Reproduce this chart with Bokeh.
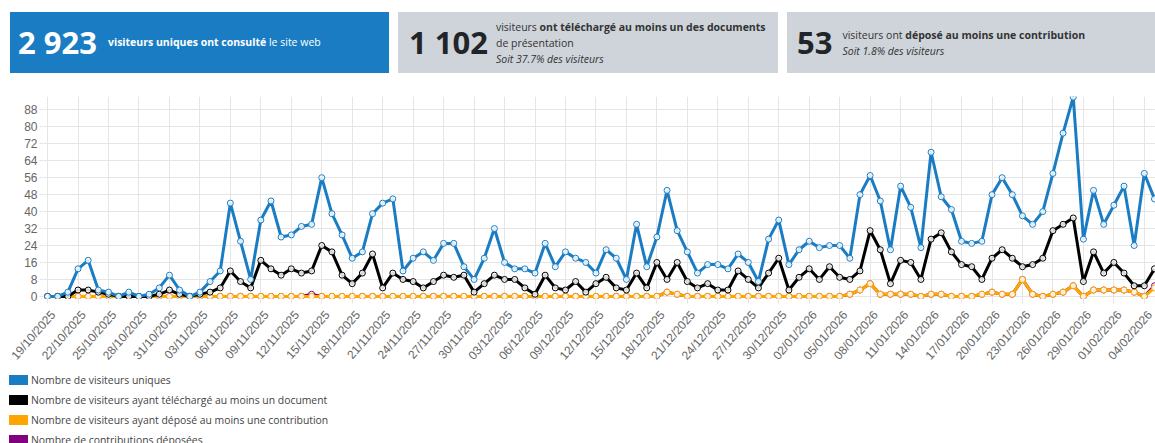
import pandas as pd
from bokeh.plotting import figure
from bokeh.models import Range1d, FixedTicker, Div, ColumnDataSource
from bokeh.layouts import column
from bokeh.embed import file_html
from bokeh.resources import INLINE

# ---------------- data ----------------
start_date = "2025-10-19"
n_days = 110

visiteurs_uniques = [
    0, 0, 2, 13, 17, 3, 2, 0, 2, 0,
    1, 4, 10, 3, 0, 2, 7, 12, 44, 26,
    8, 36, 45, 28, 29, 33, 34, 56, 39, 29,
    18, 21, 39, 44, 46, 12, 18, 21, 17, 25,
    25, 14, 8, 18, 32, 16, 13, 13, 11, 25,
    14, 21, 18, 16, 11, 22, 18, 8, 34, 14,
    28, 50, 31, 21, 11, 15, 15, 13, 20, 16,
    7, 27, 36, 15, 22, 26, 23, 24, 24, 18,
    48, 57, 45, 22, 52, 42, 23, 68, 47, 41,
    26, 25, 26, 48, 56, 48, 38, 34, 40, 58,
    77, 94, 27, 50, 34, 43, 52, 24, 58, 46,
]
visiteurs_telechargement = [
    0, 0, 0, 3, 3, 2, 1, 0, 0, 0,
    0, 1, 3, 1, 0, 1, 2, 4, 12, 7,
    4, 17, 13, 10, 13, 11, 12, 24, 21, 10,
    6, 11, 20, 4, 11, 8, 7, 4, 7, 10,
    9, 10, 2, 6, 10, 8, 8, 4, 1, 10,
    4, 3, 7, 2, 6, 9, 4, 3, 11, 4,
    16, 8, 16, 7, 4, 6, 3, 3, 12, 8,
    4, 11, 18, 3, 9, 13, 8, 14, 9, 8,
    12, 31, 22, 6, 17, 16, 8, 27, 30, 21,
    15, 14, 8, 18, 22, 18, 14, 15, 18, 31,
    34, 37, 7, 21, 11, 16, 11, 5, 5, 13,
]
visiteurs_contribution = [
    0, 0, 0, 0, 0, 0, 0, 0, 0, 0,
    0, 0, 0, 0, 0, 0, 0, 0, 0, 0,
    0, 0, 0, 0, 0, 0, 0, 0, 0, 0,
    0, 0, 0, 0, 0, 0, 0, 0, 0, 0,
    0, 0, 0, 0, 0, 0, 0, 0, 0, 0,
    0, 0, 0, 0, 0, 0, 0, 0, 0, 0,
    0, 2, 1, 0, 0, 0, 0, 0, 0, 0,
    0, 0, 0, 0, 0, 0, 0, 0, 0, 1,
    3, 6, 1, 1, 1, 1, 0, 1, 1, 0,
    0, 0, 1, 2, 1, 1, 8, 1, 0, 1,
    2, 5, 0, 3, 3, 3, 3, 2, 0, 4,
]
contributions_deposees = [
    0, 0, 0, 0, 0, 0, 0, 0, 0, 0,
    0, 0, 0, 0, 0, 0, 0, 0, 0, 0,
    0, 0, 0, 0, 0, 0, 1, 0, 0, 0,
    0, 0, 0, 0, 0, 0, 0, 0, 0, 0,
    0, 0, 0, 0, 0, 0, 0, 0, 0, 0,
    0, 0, 0, 0, 0, 0, 0, 0, 0, 0,
    0, 2, 1, 0, 0, 0, 0, 0, 0, 0,
    0, 0, 0, 0, 0, 0, 0, 0, 0, 1,
    3, 6, 1, 1, 1, 1, 0, 1, 1, 0,
    0, 0, 1, 2, 1, 1, 8, 1, 0, 1,
    2, 5, 0, 3, 3, 3, 3, 2, 0, 5,
]

series_names = [
    "Nombre de visiteurs uniques",
    "Nombre de visiteurs ayant téléchargé au moins un document",
    "Nombre de visiteurs ayant déposé au moins une contribution",
    "Nombre de contributions déposées",
]
series_colors = ["#1a7dc4", "#000000", "#ffa500", "#800080"]

y_ticks = list(range(0, 89, 8))
tick_step = 3

kpi_total = "2&nbsp;923"
kpi_download = "1&nbsp;102"
kpi_contrib = "53"
pct_download = "37.7%"
pct_contrib = "1.8%"

# ---------------- derived ----------------
dates = pd.date_range(start_date, periods=n_days, freq="D")
x = list(range(n_days))
x_ticks = list(range(0, n_days, tick_step))
label_shift = 0.55
label_ticks = [t + label_shift for t in x_ticks]
x_labels = {t + label_shift: dates[t].strftime("%d/%m/%Y") for t in x_ticks}

# ---------------- KPI boxes ----------------
kpi_html = f"""
<div style="display:flex; gap:9px; padding:12px 0 0 10px; font-family:'Open Sans', sans-serif; width:1155px; box-sizing:border-box; overflow:hidden; white-space:nowrap;">
  <div style="flex:0 0 379px; height:61px; background:#1a7dc4; color:#ffffff; display:flex; align-items:center; box-sizing:border-box; padding-left:8px;">
    <span style="font-size:31px; font-weight:700; line-height:31px;">{kpi_total}</span>
    <span style="font-size:10.5px; margin-left:11px; line-height:15px;"><b>visiteurs uniques ont consulté</b> le site web</span>
  </div>
  <div style="flex:0 0 380px; height:61px; background:#ced4da; color:#333333; display:flex; align-items:center; box-sizing:border-box; padding-left:11px;">
    <span style="font-size:31px; font-weight:700; line-height:31px; color:#212529;">{kpi_download}</span>
    <span style="font-size:10.5px; margin-left:8px; line-height:16px;">visiteurs <b>ont téléchargé au moins un des documents</b><br>de présentation<br><i>Soit {pct_download} des visiteurs</i></span>
  </div>
  <div style="flex:0 0 400px; height:61px; background:#ced4da; color:#333333; display:flex; align-items:center; box-sizing:border-box; padding-left:10px;">
    <span style="font-size:31px; font-weight:700; line-height:31px; color:#212529;">{kpi_contrib}</span>
    <span style="font-size:10.5px; margin-left:10px; line-height:16px;">visiteurs ont <b>déposé au moins une contribution</b><br><i>Soit {pct_contrib} des visiteurs</i></span>
  </div>
</div>
"""
kpi = Div(text=kpi_html, width=1155, height=88, margin=(0, 0, 0, 0), styles={"overflow": "hidden"})

# ---------------- chart ----------------
p = figure(
    width=1155, height=282,
    x_range=Range1d(-0.4, 109.1), y_range=Range1d(-1, 94.3),
    output_backend="svg", toolbar_location=None,
    min_border_left=43, min_border_right=0, min_border_top=8, min_border_bottom=70,
    margin=(0, 0, 0, 0),
)
p.outline_line_color = None
p.background_fill_color = "#ffffff"
p.border_fill_color = "#ffffff"

all_series = [visiteurs_uniques, visiteurs_telechargement, visiteurs_contribution, contributions_deposees]
for vals, col in list(zip(all_series, series_colors))[::-1]:
    src = ColumnDataSource(dict(x=x, y=vals))
    p.line("x", "y", source=src, line_color=col, line_width=3, line_join="round")
    p.scatter("x", "y", source=src, size=6, marker="circle", fill_color="#ffffff",
              fill_alpha=0.85, line_color=col, line_width=1)

# x axis: labels at slightly shifted positions, tick marks (minor ticks) on the grid lines
xax = p.xaxis[0]
xax.ticker = FixedTicker(ticks=label_ticks, minor_ticks=x_ticks)
xax.major_label_overrides = x_labels
xax.major_label_orientation = 0.855
xax.major_tick_line_color = None
xax.major_tick_out = 0
xax.major_tick_in = 0
xax.minor_tick_line_color = "#e5e5e5"
xax.minor_tick_out = 5
xax.minor_tick_in = 0
xax.major_label_standoff = 9

yax = p.yaxis[0]
yax.ticker = FixedTicker(ticks=y_ticks)
yax.major_tick_out = 4
yax.major_tick_in = 0
yax.major_label_standoff = 2
yax.major_tick_line_color = "#e5e5e5"
yax.minor_tick_line_color = None

for ax in (xax, yax):
    ax.axis_line_color = None
    ax.major_label_text_font = "Liberation Sans"
    ax.major_label_text_color = "#666666"
    ax.major_label_text_font_size = "12px"

p.xgrid.ticker = FixedTicker(ticks=x_ticks)
p.xgrid.grid_line_color = "#e5e5e5"
p.ygrid.grid_line_color = "#e5e5e5"

# ---------------- legend ----------------
rows = "".join(
    f'<div style="display:flex; align-items:center; height:20px;">'
    f'<span style="display:inline-block; width:19px; height:10px; background:{c}; margin:0 3px 0 9px;"></span>'
    f'<span>{n}</span></div>'
    for n, c in zip(series_names, series_colors)
)
legend_html = f'<div style="font-family:\'Open Sans\', sans-serif; font-size:10.4px; color:#444444; white-space:nowrap;">{rows}</div>'
legend = Div(text=legend_html, width=1155, height=73, margin=(0, 0, 0, 0), styles={"overflow": "hidden"})

layout = column(kpi, p, legend, spacing=0)
open("out.html", "w").write(file_html(layout, INLINE))
